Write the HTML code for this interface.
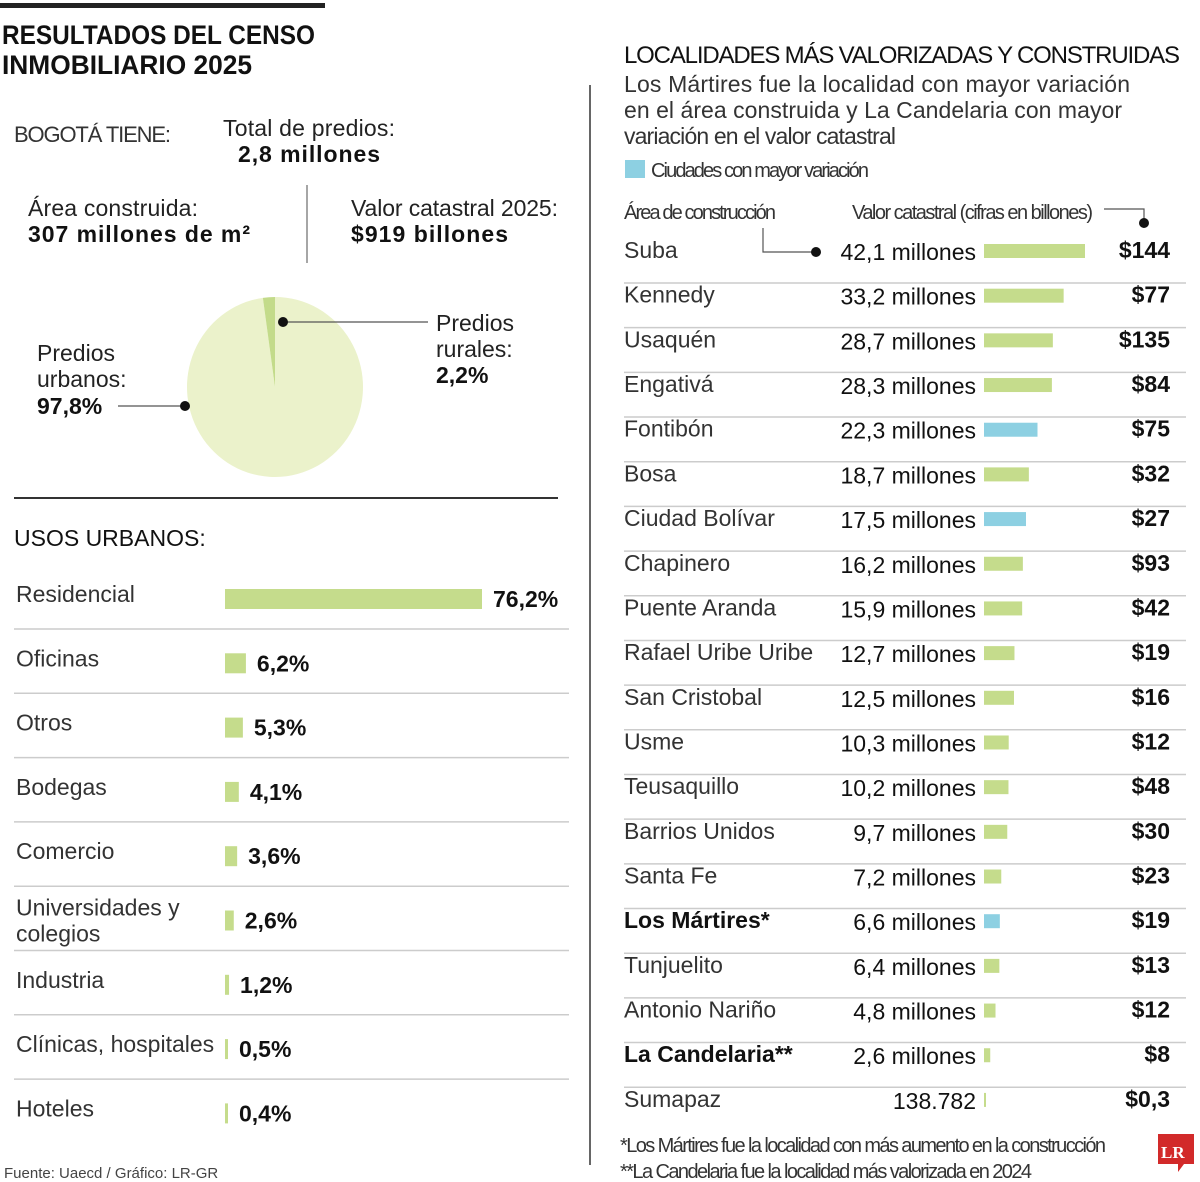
<!DOCTYPE html>
<html><head><meta charset="utf-8"><style>
html,body{margin:0;padding:0;background:#fff;}
svg{display:block;font-family:"Liberation Sans",sans-serif;}
.n{font-family:"Liberation Sans Narrow","Liberation Sans",sans-serif;}
</style></head><body>
<svg id="c" width="1200" height="1182" viewBox="0 0 1200 1182" xmlns="http://www.w3.org/2000/svg">
<rect x="0" y="3" width="325" height="5" fill="#222"/>
<text class="n" x="2" y="44" font-size="27" font-weight="bold" fill="#111" textLength="313" lengthAdjust="spacingAndGlyphs">RESULTADOS DEL CENSO</text>
<text class="n" x="2" y="74" font-size="27" font-weight="bold" fill="#111" textLength="250" lengthAdjust="spacingAndGlyphs">INMOBILIARIO 2025</text>
<text x="14" y="142" font-size="22" fill="#333" textLength="157">BOGOTÁ TIENE:</text>
<text x="223" y="136" font-size="23" fill="#222" textLength="172">Total de predios:</text>
<text x="238" y="162" font-size="23" font-weight="bold" fill="#111" textLength="142">2,8 millones</text>
<text x="28" y="216" font-size="23" fill="#222" textLength="170">Área construida:</text>
<text x="28" y="242" font-size="23" font-weight="bold" fill="#111" textLength="222">307 millones de m²</text>
<line x1="307" y1="185" x2="307" y2="263" stroke="#888" stroke-width="1.5"/>
<text x="351" y="216" font-size="23" fill="#222" textLength="207">Valor catastral 2025:</text>
<text x="351" y="242" font-size="23" font-weight="bold" fill="#111" textLength="157">$919 billones</text>
<g id="pie"></g>
<line x1="118" y1="406" x2="184" y2="406" stroke="#555" stroke-width="1.2"/>
<circle cx="185" cy="406" r="5" fill="#111"/>
<line x1="283" y1="322" x2="428" y2="322" stroke="#555" stroke-width="1.2"/>
<circle cx="283" cy="322" r="5" fill="#111"/>
<text x="37" y="361" font-size="23" fill="#222">Predios</text>
<text x="37" y="387" font-size="23" fill="#222">urbanos:</text>
<text x="37" y="414" font-size="23" font-weight="bold" fill="#111">97,8%</text>
<text x="436" y="331" font-size="23" fill="#222">Predios</text>
<text x="436" y="357" font-size="23" fill="#222">rurales:</text>
<text x="436" y="383" font-size="23" font-weight="bold" fill="#111">2,2%</text>
<line x1="14" y1="498" x2="558" y2="498" stroke="#333" stroke-width="2"/>
<text x="14" y="546" font-size="23" fill="#111">USOS URBANOS:</text>
<g id="left"></g>
<text x="4" y="1178" font-size="15" fill="#444">Fuente: Uaecd / Gráfico: LR-GR</text>
<line x1="590" y1="85" x2="590" y2="1165" stroke="#333" stroke-width="1.5"/>
<text class="n" x="624" y="63" font-size="24" fill="#111" textLength="556">LOCALIDADES MÁS VALORIZADAS Y CONSTRUIDAS</text>
<text x="624" y="92" font-size="23" fill="#333" textLength="506">Los Mártires fue la localidad con mayor variación</text>
<text x="624" y="118" font-size="23" fill="#333" textLength="498">en el área construida y La Candelaria con mayor</text>
<text x="624" y="144" font-size="23" fill="#333" textLength="272">variación en el valor catastral</text>
<rect x="625" y="160" width="20" height="18" fill="#8dd0e2"/>
<text class="n" x="651" y="177" font-size="20" fill="#333" textLength="218">Ciudades con mayor variación</text>
<text class="n" x="624" y="219" font-size="20" fill="#333" textLength="152">Área de construcción</text>
<text class="n" x="852" y="219" font-size="20" fill="#333" textLength="241">Valor catastral (cifras en billones)</text>
<polyline points="763,228 763,252 816,252" fill="none" stroke="#555" stroke-width="1.2"/>
<circle cx="816" cy="252" r="5" fill="#111"/>
<polyline points="1104,209 1144,209 1144,222" fill="none" stroke="#555" stroke-width="1.2"/>
<circle cx="1144" cy="223" r="5" fill="#111"/>
<g id="right"></g>
<text class="n" x="620" y="1152" font-size="20" fill="#333" textLength="486">*Los Mártires fue la localidad con más aumento en la construcción</text>
<text class="n" x="620" y="1178" font-size="20" fill="#333" textLength="412">**La Candelaria fue la localidad más valorizada en 2024</text>
<path d="M1158,1134 h36 v30 h-10 l-6,8 v-8 h-20 z" fill="#d22a2a"/>
<text x="1161" y="1158" font-size="17" font-weight="bold" fill="#fff" font-family="Liberation Serif,serif">LR</text>
</svg>
<script>
const pieLabels=["Predios urbanos","Predios rurales"];
const pieValues=[97.8,2.2];
const usoCategories=["Residencial","Oficinas","Otros","Bodegas","Comercio","Universidades y|colegios","Industria","Clínicas, hospitales","Hoteles"];
const usoValues=[76.2,6.2,5.3,4.1,3.6,2.6,1.2,0.5,0.4];
const usoLabels=["76,2%","6,2%","5,3%","4,1%","3,6%","2,6%","1,2%","0,5%","0,4%"];
const locNames=["Suba","Kennedy","Usaquén","Engativá","Fontibón","Bosa","Ciudad Bolívar","Chapinero","Puente Aranda","Rafael Uribe Uribe","San Cristobal","Usme","Teusaquillo","Barrios Unidos","Santa Fe","Los Mártires*","Tunjuelito","Antonio Nariño","La Candelaria**","Sumapaz"];
const locArea=[42.1,33.2,28.7,28.3,22.3,18.7,17.5,16.2,15.9,12.7,12.5,10.3,10.2,9.7,7.2,6.6,6.4,4.8,2.6,0.138782];
const locAreaLabels=["42,1 millones","33,2 millones","28,7 millones","28,3 millones","22,3 millones","18,7 millones","17,5 millones","16,2 millones","15,9 millones","12,7 millones","12,5 millones","10,3 millones","10,2 millones","9,7 millones","7,2 millones","6,6 millones","6,4 millones","4,8 millones","2,6 millones","138.782"];
const locValor=["$144","$77","$135","$84","$75","$32","$27","$93","$42","$19","$16","$12","$48","$30","$23","$19","$13","$12","$8","$0,3"];
const locHighlight=[0,0,0,0,1,0,1,0,0,0,0,0,0,0,0,1,0,0,0,0];
const locBold=[0,0,0,0,0,0,0,0,0,0,0,0,0,0,0,1,0,0,1,0];
const NS="http://www.w3.org/2000/svg";
function mk(tag,attrs,parent,txt){const e=document.createElementNS(NS,tag);for(const k in attrs)e.setAttribute(k,attrs[k]);if(txt!==undefined)e.textContent=txt;parent.appendChild(e);return e;}
const pie=document.getElementById('pie');
const cx=275,cy=387,rx=88,ry=90;
const tot=pieValues.reduce((a,b)=>a+b,0);
let ang=0;
const pieColors=["#ebf2cb","#c3db8a"];
pieValues.forEach((v,i)=>{
  const a0=ang,a1=ang+v/tot*2*Math.PI;ang=a1;
  const p=t=>[cx+rx*Math.sin(t),cy-ry*Math.cos(t)];
  const s=p(a0),e=p(a1),large=(a1-a0)>Math.PI?1:0;
  const el=mk('path',{d:`M${cx},${cy} L${s[0]},${s[1]} A${rx},${ry} 0 ${large} 1 ${e[0]},${e[1]} Z`,fill:pieColors[i]},pie);
  
  
});
const left=document.getElementById('left');
const lx=225,lscale=257/76.2,ly0=598,lstep=64.3;
const lxs=v=>v*lscale;
usoCategories.forEach((c,i)=>{
  const y=ly0+i*lstep;
  const parts=c.split('|');
  parts.forEach((p,j)=>{
    const t=mk('text',{x:16,y:(parts.length>1?y-4+j*26:y+4),'font-size':23,fill:'#333'},left,p);
    
    
  });
  const w=Math.max(lxs(usoValues[i]),3);
  const b=mk('rect',{x:lx,y:y-9,width:w,height:20,fill:'#c5dc8c'},left);
  
  
  const v=mk('text',{x:lx+w+11,y:y+9,'font-size':23,'font-weight':'bold',fill:'#111'},left,usoLabels[i]);
  
  
  if(i<usoCategories.length-1){
    const l=mk('line',{x1:14,x2:569,y1:y+31,y2:y+31,stroke:'#ccc','stroke-width':1.5},left);
    
    
  }
});
const right=document.getElementById('right');
const rx0=984,rscale=101/42.1,ry0=250,rstep=44.68;
const rxs=v=>v*rscale;
locNames.forEach((n,i)=>{
  const y=ry0+i*rstep;
  const t=mk('text',{x:624,y:y+8,'font-size':23,fill:locBold[i]?'#111':'#333','font-weight':locBold[i]?'bold':'normal'},right,n);
  
  
  const a=mk('text',{x:976,y:y+10,'font-size':23,fill:'#111','text-anchor':'end'},right,locAreaLabels[i]);
  
  
  const w=Math.max(rxs(locArea[i]),2);
  const b=mk('rect',{x:rx0,y:y-6,width:w,height:14,fill:locHighlight[i]?'#8dd0e2':'#c5dc8c'},right);
  
  
  const v=mk('text',{x:1170,y:y+8,'font-size':23,'font-weight':'bold',fill:'#111','text-anchor':'end'},right,locValor[i]);
  
  
  if(i<locNames.length-1){
    const l=mk('line',{x1:624,x2:1186,y1:y+33,y2:y+33,stroke:'#ccc','stroke-width':1.5},right);
    
    
  }
});
</script>
</body></html>
